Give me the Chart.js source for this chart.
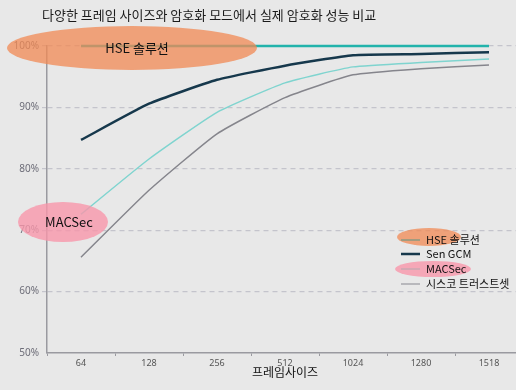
<!DOCTYPE html>
<html>
<head>
<meta charset="utf-8">
<script src="https://cdn.jsdelivr.net/npm/chart.js@4.4.0/dist/chart.umd.min.js"></script>
<style>
  html, body { margin: 0; padding: 0; background: #e8e8e8; overflow: hidden; }
  #wrap { width: 524px; height: 390px; }
</style>
</head>
<body>
<div id="wrap"><canvas id="c" width="524" height="390"></canvas></div>
<script>
const frameSizes = ["64", "128", "256", "512", "1024", "1280", "1518"];
const hseValues = [100, 100, 100, 100, 100, 100, 100];
const senGcmValues = [84.7, 90.6, 94.5, 96.8, 98.5, 98.7, 99.0];
const macsecValues = [72.6, 81.6, 89.2, 94.0, 96.6, 97.3, 97.9];
const ciscoValues = [65.6, 76.5, 85.7, 91.6, 95.3, 96.3, 96.9];
const yTicks = [50, 60, 70, 80, 90, 100];

const chartTitle = "다양한 프레임 사이즈와 암호화 모드에서 실제 암호화 성능 비교";
const KR = "'Noto Sans CJK KR', 'Noto Sans', sans-serif";
const ORANGE = "rgba(241,138,86,0.76)";
const PINK = "rgba(248,150,170,0.8)";

// ellipses, legend and title drawn on top of the chart
const overlay = {
  id: "overlay",
  afterDraw(chart) {
    const { ctx } = chart;
    ctx.save();

    ctx.fillStyle = "#1a1a1a";
    ctx.font = "13px " + KR;
    ctx.textBaseline = "middle";
    ctx.textAlign = "left";
    ctx.fillText(chartTitle, 42, 15);

    const blob = (x, y, rx, ry, color) => {
      ctx.beginPath();
      ctx.ellipse(x, y, rx, ry, 0, 0, Math.PI * 2);
      ctx.fillStyle = color;
      ctx.fill();
    };

    blob(132, 48, 125, 22, ORANGE);
    blob(63, 222, 45, 20, PINK);

    ctx.fillStyle = "#111";
    ctx.font = "13px " + KR;
    ctx.textAlign = "center";
    ctx.fillText("HSE 솔루션", 137, 48);
    ctx.fillText("MACSec", 69, 222);

    // legend
    blob(429, 237, 32, 9, ORANGE);
    blob(433, 269, 38, 8, PINK);
    const legendColors = ["#8a9a82", "#16384c", "#c9a9b2", "#a9a9ae"];
    const legendY = [240, 254, 269, 284];
    ctx.font = "11px " + KR;
    ctx.textAlign = "left";
    chart.data.datasets.forEach((ds, i) => {
      ctx.strokeStyle = legendColors[i];
      ctx.lineWidth = i === 1 ? 2.5 : 1.5;
      ctx.beginPath();
      ctx.moveTo(401, legendY[i]);
      ctx.lineTo(420, legendY[i]);
      ctx.stroke();
      ctx.fillStyle = "#111";
      ctx.fillText(ds.label, 426, legendY[i]);
    });
    ctx.restore();
  },
};

new Chart(document.getElementById("c"), {
  type: "line",
  data: {
    labels: frameSizes,
    datasets: [
      { label: "HSE 솔루션", data: hseValues, borderColor: "#22b3ab", borderWidth: 2.5 },
      { label: "Sen GCM", data: senGcmValues, borderColor: "#16384c", borderWidth: 2.5 },
      { label: "MACSec", data: macsecValues, borderColor: "#7fd4cf", borderWidth: 1.5 },
      { label: "시스코 트러스트셋", data: ciscoValues, borderColor: "#85858c", borderWidth: 1.5 },
    ],
  },
  options: {
    responsive: false,
    animation: false,
    clip: false,
    layout: { padding: { top: 46, right: 1, left: 0, bottom: 0 } },
    elements: { point: { radius: 0 }, line: { tension: 0.15, fill: false } },
    plugins: { legend: { display: false }, title: { display: false }, tooltip: { enabled: false } },
    scales: {
      x: {
        offset: true,
        afterFit: (s) => { s.height = 37; },
        grid: { drawOnChartArea: false, drawTicks: true, tickLength: 3, color: "#9a9aa0", offset: true },
        border: { color: "#9a9aa0", width: 1.5 },
        ticks: { color: "#555", font: { size: 9, family: "'Noto Sans', sans-serif" }, padding: 2 },
        title: {
          display: true, text: "프레임사이즈", color: "#111",
          font: { size: 12, family: KR }, padding: { top: 0, bottom: 10 },
        },
      },
      y: {
        min: 50, max: 100,
        afterFit: (s) => { s.width = 47; },
        afterBuildTicks: (s) => { s.ticks = yTicks.map((v) => ({ value: v })); },
        grid: {
          color: (c) => (c.tick && c.tick.value === 50 ? "rgba(0,0,0,0)" : "#c4c4cc"),
          tickLength: 5, lineWidth: 1.2,
        },
        border: { color: "#9a9aa0", width: 1.5, dash: [5, 4] },
        ticks: {
          color: "#6d6d78", font: { size: 10, family: "'Noto Sans', sans-serif" }, padding: 3,
          callback: (v) => v + "%",
        },
      },
    },
  },
  plugins: [overlay],
});
</script>
</body>
</html>
